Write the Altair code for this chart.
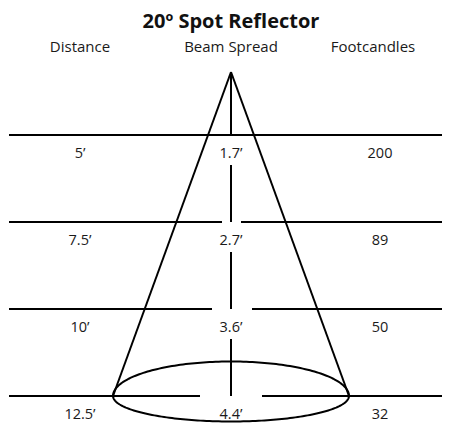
import altair as alt
import pandas as pd
import numpy as np

# ---- content ----
title_text = "20º Spot Reflector"
headers = ["Distance", "Beam Spread", "Footcandles"]
distances = ["5’", "7.5’", "10’", "12.5’"]
spreads = ["1.7’", "2.7’", "3.6’", "4.4’"]
footcandles = ["200", "89", "50", "32"]

# ---- diagram geometry (x: units from cone axis, y: row index) ----
col_x = [-151, 0, 149]
header_x = [-151, 0, 142]
line_left, line_right = -222, 211
gap_left = [0, -9, -19, -31]
gap_right = [0, 10, 21, 31]
apex_y = -0.724
base_half = 118
ell_ry_top = 0.397
ell_ry_bottom = 0.293
label_dy = 0.259
seg_start = 0.345
title_y, header_y = -1.233, -0.9575

n = len(distances)
xs = alt.Scale(domain=[-223, 211], nice=False, zero=False)
ys = alt.Scale(domain=[3.3103, -1.4598], nice=False, zero=False)

# horizontal lines
h = []
for i in range(n):
    if gap_left[i] == gap_right[i]:
        h.append(dict(x=line_left, x2=line_right, y=i))
    else:
        h.append(dict(x=line_left, x2=gap_left[i], y=i))
        h.append(dict(x=gap_right[i], x2=line_right, y=i))
hdf = pd.DataFrame(h)

# vertical center segments
v = [dict(x=0, y=apex_y, y2=0)]
for i in range(n - 1):
    v.append(dict(x=0, y=i + seg_start, y2=i + 1))
vdf = pd.DataFrame(v)

# cone sides
sdf = pd.DataFrame([
    dict(x=0, y=apex_y, x2=-base_half, y2=n - 1),
    dict(x=0, y=apex_y, x2=base_half, y2=n - 1),
])

# ellipse at the base
t = np.linspace(0, 2 * np.pi, 241)
s = np.sin(t)
ry = np.where(s < 0, ell_ry_top, ell_ry_bottom)
edf = pd.DataFrame(dict(x=base_half * np.cos(t), y=(n - 1) + ry * s, o=np.arange(len(t))))

# text
rows = []
for i in range(n):
    for j, lab in enumerate([distances[i], spreads[i], footcandles[i]]):
        rows.append(dict(x=col_x[j], y=i + label_dy, t=lab))
tdf = pd.DataFrame(rows)
hddf = pd.DataFrame(dict(x=header_x, y=[header_y] * 3, t=headers))
ttdf = pd.DataFrame(dict(x=[0], y=[title_y], t=[title_text]))

X = lambda f: alt.X(f, type="quantitative", scale=xs, axis=None)
Y = lambda f: alt.Y(f, type="quantitative", scale=ys, axis=None)

hl = alt.Chart(hdf).mark_rule(color="black", strokeWidth=2).encode(x=X("x"), x2="x2", y=Y("y"))
vl = alt.Chart(vdf).mark_rule(color="black", strokeWidth=2).encode(x=X("x"), y=Y("y"), y2="y2")
sl = alt.Chart(sdf).mark_rule(color="black", strokeWidth=2).encode(x=X("x"), y=Y("y"), x2="x2", y2="y2")
el = alt.Chart(edf).mark_line(color="black", strokeWidth=2).encode(x=X("x"), y=Y("y"), order="o:Q")
tl = alt.Chart(tdf).mark_text(font="Open Sans", fontSize=14.5, color="#1a1a1a", baseline="alphabetic").encode(
    x=X("x"), y=Y("y"), text="t:N")
hd = alt.Chart(hddf).mark_text(font="Open Sans", fontSize=15, color="#1a1a1a", baseline="alphabetic").encode(
    x=X("x"), y=Y("y"), text="t:N")
tt = alt.Chart(ttdf).mark_text(font="Open Sans", fontSize=20, fontWeight="bold", color="#111", baseline="alphabetic").encode(
    x=X("x"), y=Y("y"), text="t:N")

chart = alt.layer(hl, vl, sl, el, tl, hd, tt).properties(
    width=434, height=415, autosize=alt.AutoSizeParams(type="none"), padding=0
).configure_view(stroke=None)

chart.save("out.html", embed_options={"renderer": "svg", "actions": False})
